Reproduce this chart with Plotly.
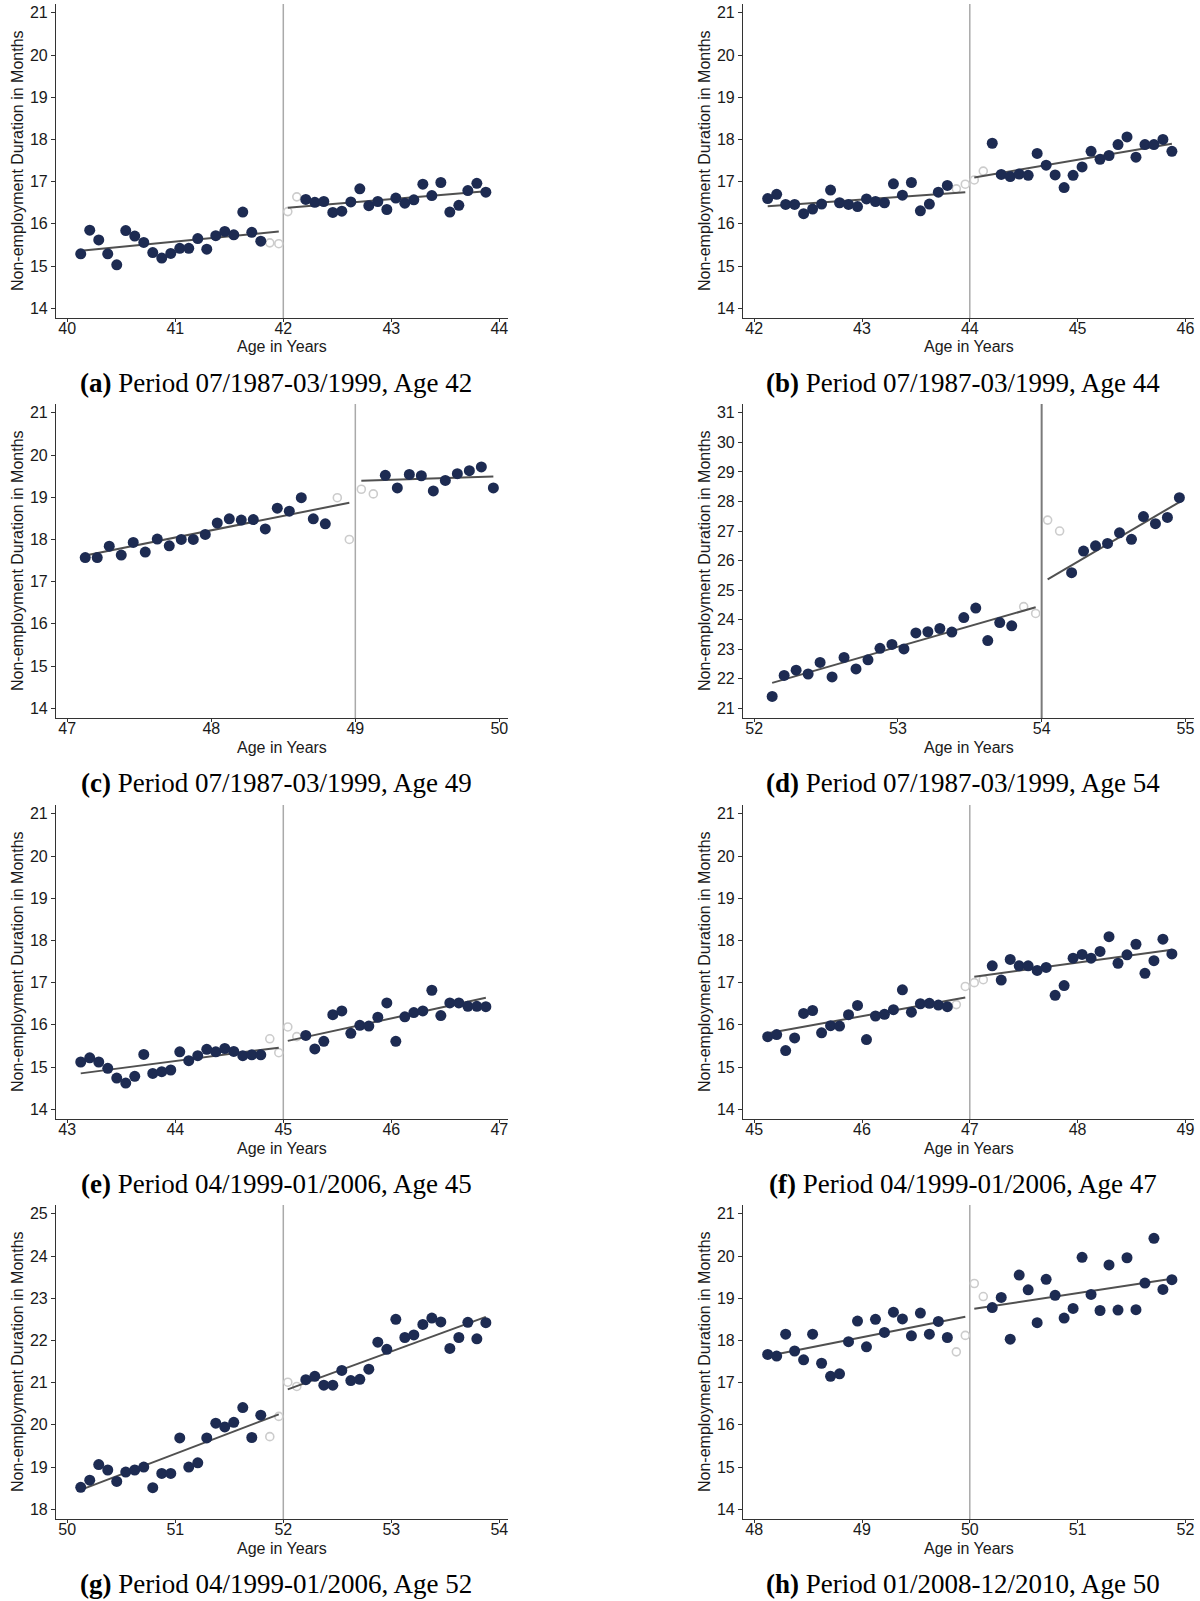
import plotly.graph_objects as go

# ---------------- data ----------------
# Each panel: monthly bins left of the cutoff (last 2 hollow / excluded)
# and right of the cutoff (first 2 hollow / excluded).
a_left = [15.29, 15.85, 15.62, 15.29, 15.03, 15.84, 15.71, 15.56, 15.32, 15.19, 15.30, 15.42,
          15.42, 15.65, 15.40, 15.72, 15.82, 15.74, 16.28, 15.80, 15.59, 15.55, 15.53]
a_right = [16.29, 16.64, 16.58, 16.51, 16.53, 16.27, 16.30, 16.52, 16.83, 16.43, 16.53, 16.34,
           16.61, 16.49, 16.57, 16.94, 16.67, 16.98, 16.28, 16.44, 16.79, 16.96, 16.75]
a_fit = [15.36, 15.82, 16.38, 16.77]

b_left = [16.60, 16.70, 16.46, 16.46, 16.24, 16.35, 16.47, 16.80, 16.50, 16.46, 16.41, 16.59,
          16.53, 16.50, 16.95, 16.68, 16.98, 16.31, 16.47, 16.75, 16.91, 16.83, 16.94]
b_right = [17.04, 17.25, 17.91, 17.17, 17.12, 17.18, 17.15, 17.67, 17.39, 17.16, 16.86, 17.15,
           17.35, 17.72, 17.53, 17.62, 17.88, 18.06, 17.58, 17.88, 17.88, 18.00, 17.72]
b_fit = [16.42, 16.75, 17.10, 17.90]

c_left = [17.57, 17.57, 17.84, 17.63, 17.93, 17.70, 18.01, 17.85, 18.00, 18.00, 18.12, 18.39,
          18.49, 18.46, 18.47, 18.25, 18.74, 18.67, 18.99, 18.49, 18.37, 18.99, 18.00]
c_right = [19.19, 19.08, 19.52, 19.22, 19.54, 19.51, 19.15, 19.40, 19.56, 19.63, 19.72, 19.22]
c_fit = [17.62, 18.87, 19.39, 19.49]

d_left = [21.40, 22.11, 22.29, 22.16, 22.55, 22.06, 22.72, 22.33, 22.64, 23.03, 23.16, 23.01,
          23.55, 23.59, 23.70, 23.58, 24.07, 24.39, 23.29, 23.90, 23.79, 24.44, 24.21]
d_right = [27.37, 27.00, 25.59, 26.32, 26.50, 26.58, 26.94, 26.72, 27.49, 27.25, 27.46, 28.13]
d_fit = [21.86, 24.42, 25.36, 27.98]

e_left = [15.12, 15.22, 15.12, 14.97, 14.74, 14.62, 14.78, 15.30, 14.85, 14.89, 14.93, 15.36,
          15.15, 15.27, 15.42, 15.36, 15.44, 15.37, 15.27, 15.29, 15.29, 15.67, 15.34]
e_right = [15.95, 15.72, 15.75, 15.43, 15.61, 16.24, 16.33, 15.80, 15.99, 15.97, 16.18, 16.52,
           15.61, 16.19, 16.29, 16.33, 16.82, 16.22, 16.52, 16.52, 16.44, 16.44, 16.43]
e_fit = [14.85, 15.46, 15.62, 16.64]

f_left = [15.72, 15.77, 15.39, 15.69, 16.27, 16.34, 15.81, 15.98, 15.97, 16.24, 16.46, 15.65,
          16.21, 16.25, 16.36, 16.83, 16.30, 16.50, 16.51, 16.47, 16.43, 16.48, 16.91]
f_right = [17.00, 17.07, 17.40, 17.06, 17.55, 17.40, 17.40, 17.29, 17.36, 16.70, 16.93, 17.58,
           17.67, 17.58, 17.74, 18.09, 17.46, 17.66, 17.91, 17.22, 17.52, 18.03, 17.68]
f_fit = [15.80, 16.65, 17.14, 17.78]

g_left = [18.52, 18.69, 19.06, 18.93, 18.66, 18.88, 18.93, 19.00, 18.51, 18.85, 18.85, 19.69,
          19.00, 19.10, 19.69, 20.04, 19.95, 20.06, 20.41, 19.70, 20.23, 19.72, 20.20]
g_right = [21.01, 20.91, 21.07, 21.15, 20.94, 20.94, 21.29, 21.05, 21.08, 21.32, 21.96, 21.79,
           22.50, 22.07, 22.13, 22.38, 22.53, 22.44, 21.81, 22.07, 22.43, 22.04, 22.42]
g_fit = [18.46, 20.25, 20.84, 22.56]

h_left = [17.67, 17.63, 18.15, 17.75, 17.54, 18.15, 17.46, 17.15, 17.21, 17.97, 18.46, 17.85,
          18.50, 18.19, 18.67, 18.51, 18.11, 18.65, 18.15, 18.45, 18.07, 17.73, 18.12]
h_right = [19.35, 19.04, 18.78, 19.02, 18.03, 19.55, 19.20, 18.42, 19.45, 19.07, 18.53, 18.76,
           19.97, 19.09, 18.71, 19.79, 18.72, 19.96, 18.73, 19.36, 20.42, 19.21, 19.44]
h_fit = [17.63, 18.56, 18.75, 19.46]

cutoffs = [42, 44, 49, 54, 45, 47, 52, 50]
x_lows = [40, 42, 47, 52, 43, 45, 50, 48]
x_highs = [44, 46, 50, 55, 47, 49, 54, 52]
y_lows = [14, 14, 14, 21, 14, 14, 18, 14]
y_highs = [21, 21, 21, 31, 21, 21, 25, 21]
letters = ["(a)", "(b)", "(c)", "(d)", "(e)", "(f)", "(g)", "(h)"]
captions = ["Period 07/1987-03/1999, Age 42", "Period 07/1987-03/1999, Age 44",
            "Period 07/1987-03/1999, Age 49", "Period 07/1987-03/1999, Age 54",
            "Period 04/1999-01/2006, Age 45", "Period 04/1999-01/2006, Age 47",
            "Period 04/1999-01/2006, Age 52", "Period 01/2008-12/2010, Age 50"]
lefts = [a_left, b_left, c_left, d_left, e_left, f_left, g_left, h_left]
rights = [a_right, b_right, c_right, d_right, e_right, f_right, g_right, h_right]
fits = [a_fit, b_fit, c_fit, d_fit, e_fit, f_fit, g_fit, h_fit]
N_EXCL = 2
Y_TITLE = "Non-employment Duration in Months"
X_TITLE = "Age in Years"

# ---------------- styling / layout ----------------
W, H = 1200, 1601
NAVY = "#1d2b52"
HOLLOW = "#cccccc"
FITC = "#505050"
SANS = "Liberation Sans, Arial, sans-serif"
SERIF = "Liberation Serif, Times New Roman, serif"
col_x = [(56, 508), (743, 1194)]
row_top = [4, 404, 805, 1205]
row_h = 314


def px(x):
    return x / W


def py(y):
    return 1 - y / H


fig = go.Figure()
annotations = []
shapes = []

for i in range(8):
    r, c = divmod(i, 2)
    sfx = "" if i == 0 else str(i + 1)
    xa, ya = "x" + sfx, "y" + sfx
    cut = cutoffs[i]
    L, R = lefts[i], rights[i]
    nL, nR = len(L), len(R)
    xl = [cut - (nL - k - 0.5) / 12 for k in range(nL)]
    xr = [cut + (k + 0.5) / 12 for k in range(nR)]

    # hollow (excluded) points
    fig.add_trace(go.Scatter(
        x=xl[nL - N_EXCL:] + xr[:N_EXCL], y=L[nL - N_EXCL:] + R[:N_EXCL],
        mode="markers", xaxis=xa, yaxis=ya, showlegend=False,
        marker=dict(symbol="circle-open", size=8, color=HOLLOW, line=dict(width=1.6, color=HOLLOW))))
    # fit lines
    ft = fits[i]
    fig.add_trace(go.Scatter(x=[xl[0], xl[-1]], y=[ft[0], ft[1]], mode="lines",
                             xaxis=xa, yaxis=ya, showlegend=False,
                             line=dict(color=FITC, width=2)))
    fig.add_trace(go.Scatter(x=[xr[0], xr[-1]], y=[ft[2], ft[3]], mode="lines",
                             xaxis=xa, yaxis=ya, showlegend=False,
                             line=dict(color=FITC, width=2)))
    # filled points
    fig.add_trace(go.Scatter(
        x=xl[:nL - N_EXCL] + xr[N_EXCL:], y=L[:nL - N_EXCL] + R[N_EXCL:],
        mode="markers", xaxis=xa, yaxis=ya, showlegend=False,
        marker=dict(symbol="circle", size=11, color=NAVY, line=dict(width=0))))

    x0, x1 = col_x[c]
    top = row_top[r]
    bot = top + row_h
    xspan = x_highs[i] - x_lows[i]
    yspan = y_highs[i] - y_lows[i]
    axis_common = dict(showgrid=False, zeroline=False, showline=True, linecolor="#333333",
                       linewidth=1.2, ticks="outside", ticklen=4, tickcolor="#333333",
                       tickfont=dict(family=SANS, size=16, color="#1a1a1a"),
                       tickmode="linear", dtick=1)
    fig.layout["xaxis" + sfx] = dict(
        axis_common, domain=[px(x0), px(x1)], anchor=ya, tick0=x_lows[i], ticklen=3,
        ticklabelstandoff=-7,
        range=[x_lows[i] - 0.026 * xspan, x_highs[i] + 0.02 * xspan])
    fig.layout["yaxis" + sfx] = dict(
        axis_common, domain=[py(bot), py(top)], anchor=xa, tick0=y_lows[i],
        range=[y_lows[i] - 0.033 * yspan, y_highs[i] + 0.03 * yspan])

    # cutoff line
    shapes.append(dict(type="line", xref=xa, yref=ya + " domain", x0=cut, x1=cut, y0=0, y1=1,
                       line=dict(color="#7a7a7a" if i == 3 else "#aaaaaa", width=2 if i == 3 else 1.5),
                       layer="below"))

    # axis titles and caption
    annotations.append(dict(text=X_TITLE, x=px((x0 + x1) / 2), y=py(bot + 29), xref="paper", yref="paper",
                            showarrow=False, xanchor="center", yanchor="middle",
                            font=dict(family=SANS, size=16, color="#1a1a1a")))
    annotations.append(dict(text=Y_TITLE, x=px(x0 - 39), y=py((top + bot) / 2), xref="paper", yref="paper",
                            showarrow=False, xanchor="center", yanchor="middle", textangle=-90,
                            font=dict(family=SANS, size=16, color="#1a1a1a")))
    annotations.append(dict(text="<b>" + letters[i] + "</b> " + captions[i],
                            x=px((x0 + x1) / 2 - 6), y=py(bot + 65), xref="paper", yref="paper",
                            showarrow=False, xanchor="center", yanchor="middle",
                            font=dict(family=SERIF, size=27, color="#000000")))

fig.update_layout(width=W, height=H, margin=dict(l=0, r=0, t=0, b=0),
                  paper_bgcolor="white", plot_bgcolor="white",
                  annotations=annotations, shapes=shapes, showlegend=False)
fig.write_html("out.html")
